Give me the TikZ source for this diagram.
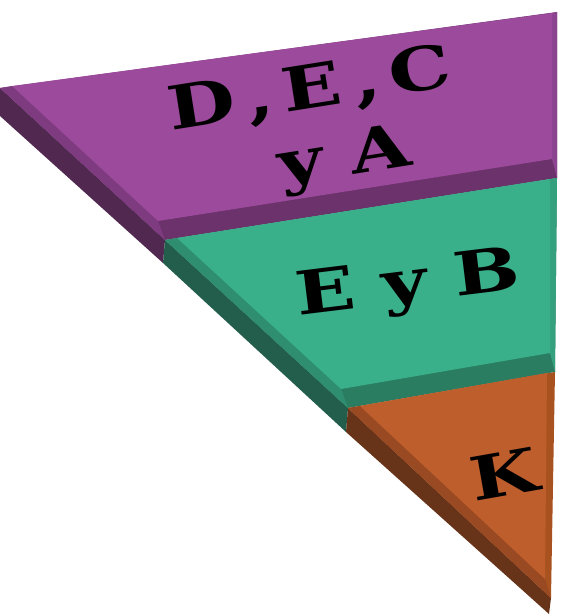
\documentclass[tikz,border=0pt]{standalone}
\usepackage{fontspec}
\newfontfamily\bandfont{DejaVu Serif}

\definecolor{purpleface}{HTML}{9C4B9C}
\definecolor{purpleleft}{HTML}{7F3B80}
\definecolor{purplelow}{HTML}{6C326C}
\definecolor{purpleright}{HTML}{8D4490}
\definecolor{purpleside}{HTML}{502850}
\definecolor{greenface}{HTML}{3AB08A}
\definecolor{greenleft}{HTML}{2F8E6F}
\definecolor{greenlow}{HTML}{2A7D61}
\definecolor{greenright}{HTML}{35A07E}
\definecolor{greenside}{HTML}{225E4B}
\definecolor{orangeface}{HTML}{BE5E2C}
\definecolor{orangeleft}{HTML}{9A4A22}
\definecolor{orangeright}{HTML}{A8521F}
\definecolor{orangeside}{HTML}{683419}

\begin{document}
\begin{tikzpicture}[
                x=1pt, y=-1pt,
                lbl/.style={font={\bandfont\bfseries\fontsize{60}{64}\selectfont}, inner sep=0pt, text=black, xscale=1.3, transform shape}
            ]
                \useasboundingbox (0,0) rectangle (561,616);

                % corners of the top faces
                \coordinate (p1) at (0,88);
                \coordinate (p2) at (557,12);
                \coordinate (p3) at (557,178);
                \coordinate (p4) at (165,240);
                \coordinate (g3) at (555,372);
                \coordinate (g4) at (348,408);
                \coordinate (o3) at (551,598);
                % lower edge of the side
                \coordinate (s1) at (0,116);
                \coordinate (s2) at (163,263);
                \coordinate (s3) at (346,432);
                \coordinate (s4) at (549,614);
                % inner corners of the bevels
                \coordinate (pi1) at (12,86);
                \coordinate (pi2) at (552,13);
                \coordinate (pi3) at (552,159);
                \coordinate (pi4) at (158,221);
                \coordinate (gi1) at (177,238);
                \coordinate (gi2) at (550,179);
                \coordinate (gi3) at (550,353);
                \coordinate (gi4) at (341,389);
                \coordinate (oi1) at (360,406);
                \coordinate (oi2) at (547,373);
                \coordinate (oi3) at (545,579);

                % sides
                \fill[purpleside] (p1) -- (p4) -- (s2) -- (s1) -- cycle;
                \fill[greenside] (p4) -- (g4) -- (s3) -- (s2) -- cycle;
                \fill[orangeside] (g4) -- (o3) -- (s4) -- (s3) -- cycle;

                % purple band
                \fill[purplelow] (p1) -- (p2) -- (p3) -- (p4) -- cycle;
                \fill[purpleleft] (p1) -- (p4) -- (pi4) -- (pi1) -- cycle;
                \fill[purpleright] (p2) -- (p3) -- (pi3) -- (pi2) -- cycle;
                \fill[purpleface] (pi1) -- (pi2) -- (pi3) -- (pi4) -- cycle;

                % green band
                \fill[greenlow] (p4) -- (p3) -- (g3) -- (g4) -- cycle;
                \fill[greenleft] (p4) -- (g4) -- (gi4) -- (gi1) -- cycle;
                \fill[greenright] (p3) -- (g3) -- (gi3) -- (gi2) -- cycle;
                \fill[greenface] (gi1) -- (gi2) -- (gi3) -- (gi4) -- cycle;

                % orange band
                \fill[orangeright] (g4) -- (g3) -- (o3) -- cycle;
                \fill[orangeleft] (g4) -- (o3) -- (oi3) -- (oi1) -- cycle;
                \fill[orangeface] (oi1) -- (oi2) -- (oi3) -- cycle;

                % labels
                \node[rotate=9, lbl] (dec) at (310,91) {D\kern.15em,\kern.12em E\kern.15em,\kern.12em C};
                \node[rotate=9, lbl] (ya) at (345,160) {y A};
                \node[rotate=7, lbl] (eyb) at (408,287) {E y B};
                \node[rotate=10, lbl] (k) at (504,474) {K};
            \end{tikzpicture}
\end{document}
